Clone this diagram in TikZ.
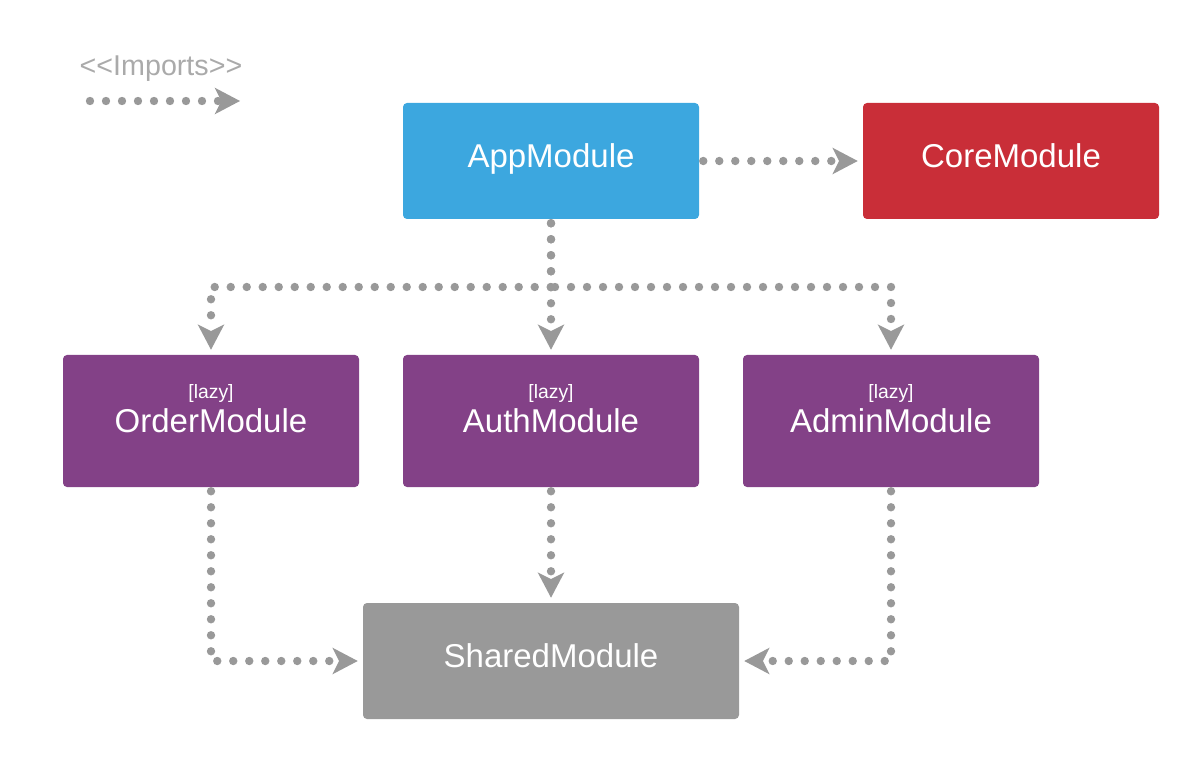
\documentclass[tikz,border=0pt]{standalone}
\usepackage{fontspec}
\setmainfont{Liberation Sans}
\usepackage{xcolor}
\usetikzlibrary{arrows.meta,positioning}

\definecolor{appblue}{HTML}{3CA7DF}
\definecolor{corered}{HTML}{C92E38}
\definecolor{lazypurple}{HTML}{834187}
\definecolor{sharedgray}{HTML}{999999}
\definecolor{linegray}{HTML}{999999}
\definecolor{labelgray}{HTML}{AAAAAA}

\begin{document}
\begin{tikzpicture}[x=0.75pt, y=-0.75pt,
    module/.style={rectangle, rounded corners=3pt, text=white, minimum width=222pt,
        minimum height=87pt, font=\fontsize{24.75}{28}\selectfont,
        text height=10.2pt, text depth=0pt},
    lazymodule/.style={module, fill=lazypurple, minimum height=99pt, text height=17.7pt},
    lazytag/.style={text=white, font=\fontsize{14.5}{17}\selectfont, inner sep=0pt},
    imports/.style={draw=linegray, line width=6.3pt, line cap=round,
        dash pattern=on 0pt off 12pt, shorten <=3pt, shorten >=3.75pt,
        -{Stealth[length=19pt, width=20pt, inset=5pt, line width=0pt]}}]
\useasboundingbox (0,0) rectangle (1202,762);

% legend
\node[text=labelgray, font=\fontsize{21.5}{25}\selectfont] (importslabel) at (161,69) {<\kern0pt<Imports>\kern0pt>};
\coordinate (legstart) at (90,101);
\coordinate (legend) at (240,101);
\draw[imports, shorten <=0pt, shorten >=0pt] (legstart) -- (legend);

% modules
\node[module, fill=appblue] (app) at (551,161) {AppModule};
\node[module, fill=corered] (core) at (1011,161) {CoreModule};
\node[lazymodule] (order) at (211,421) {OrderModule};
\node[lazymodule] (auth) at (551,421) {AuthModule};
\node[lazymodule] (admin) at (891,421) {AdminModule};
\node[module, fill=sharedgray, minimum width=282pt] (shared) at (551,661) {SharedModule};

\node[lazytag] (orderlazy) at ([yshift=20.5pt]order.center) {[lazy]};
\node[lazytag] (authlazy) at ([yshift=20.5pt]auth.center) {[lazy]};
\node[lazytag] (adminlazy) at ([yshift=20.5pt]admin.center) {[lazy]};

% imports
\coordinate (bus) at (551,287);
\draw[imports] (app) -- (core);
\draw[imports] (app.south) -- (auth.north);
\draw[imports] (app.south) -- (bus) -| (order.north);
\draw[imports] (bus) -| (admin.north);
\draw[imports] (order.south) |- (shared.west);
\draw[imports] (auth.south) -- (shared.north);
\draw[imports] (admin.south) |- (shared.east);
\end{tikzpicture}
\end{document}
